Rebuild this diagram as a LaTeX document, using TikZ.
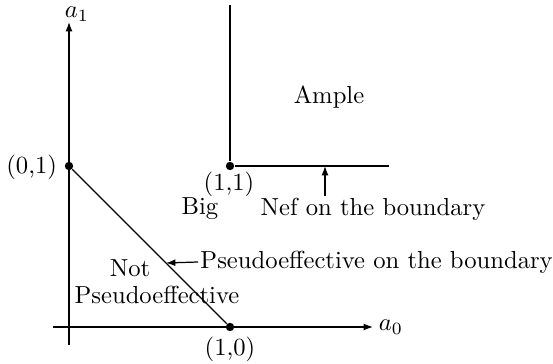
\documentclass[tikz,border=0pt]{standalone}
\usetikzlibrary{arrows.meta}
\begin{document}
\begin{tikzpicture}[x=0.406pt,y=-0.406pt,
  axis/.style={line width=0.5pt,-{Latex[length=3.8pt,width=2.8pt]}},
  edge/.style={line width=0.5pt},
  pointer/.style={line width=0.5pt,-{Latex[length=3.8pt,width=2.8pt]}},
  pt/.style={circle,fill=black,inner sep=0pt,minimum size=3.4pt},
  lab/.style={inner sep=1pt,font=\normalsize}]
\useasboundingbox (0,0) rectangle (553,364);
% axes
\coordinate (xs) at (53,327);
\coordinate (xe) at (373,327);
\coordinate (ys) at (69,345);
\coordinate (ye) at (69,22);
\draw[axis] (xs) -- (xe);
\draw[axis] (ys) -- (ye);
\node[lab] (a0) at (391,327) {$a_0$};
\node[lab] (a1) at (77,14) {$a_1$};
% points
\node[pt] (p01) at (69,166) {};
\node[pt] (p10) at (230,327) {};
\node[pt] (p11) at (230,166) {};
\node[lab,anchor=east] (l01) at (60,167) {(0,1)};
\node[lab] (l10) at (230,349) {(1,0)};
\node[lab] (l11) at (229,184) {(1,1)};
% boundaries
\coordinate (top) at (230,5);
\coordinate (right) at (389,166);
\draw[edge] (p01) -- (p10);
\draw[edge] (p11) -- (top);
\draw[edge] (p11) -- (right);
% labels
\node[lab] (ample) at (329,97) {Ample};
\node[lab] (big) at (200,209) {Big};
\node[lab] (nef) at (373,209) {Nef on the boundary};
\coordinate (neft) at (325,166);
\draw[pointer] (325,196) -- (neft);
\node[lab,inner sep=0pt,anchor=west] (pseudo) at (200,262) {Pseudoeffective on the boundary};
\coordinate (pst) at (166,263);
\draw[pointer] ([xshift=-0.8pt]pseudo.west) -- (pst);
\node[lab] (notl) at (130,268) {Not};
\node[lab] (notp) at (157,295) {Pseudoeffective};
\end{tikzpicture}
\end{document}
